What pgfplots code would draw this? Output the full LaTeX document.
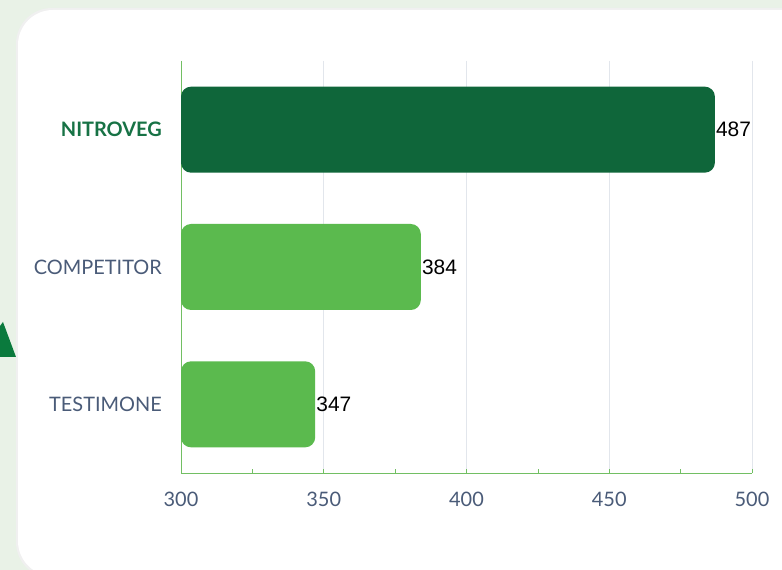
\documentclass[border=0pt]{standalone}
\usepackage{pgfplots}
\pgfplotsset{compat=1.18}
\usepackage{pgfplotstable}
\usepackage{fontspec}
\setmainfont{Lato}
\newfontfamily\valfont{Liberation Sans}
\definecolor{bgc}{HTML}{E9F2E7}
\definecolor{darkg}{HTML}{0F663A}
\definecolor{lightg}{HTML}{5BBA4E}
\definecolor{axg}{HTML}{72BF63}
\definecolor{gridc}{HTML}{E2E6EC}
\definecolor{slate}{HTML}{4A5B78}
\definecolor{lblg}{HTML}{177245}
\definecolor{trig}{HTML}{0A7A3D}
\pgfplotstableread{
x y
487 0
}\nitro
\pgfplotstableread{
x y
384 1
}\comp
\pgfplotstableread{
x y
347 2
}\test
\begin{document}
\begin{tikzpicture}[x=1bp,y=1bp]
\useasboundingbox (0,0) rectangle (782,570);
\fill[bgc] (0,0) rectangle (782,570);
\fill[trig] (0,213) -- (16,213) -- (3,248) -- (0,244) -- cycle;
\fill[black!6,rounded corners=36bp] (16,-8) rectangle (820,562);
\fill[white,rounded corners=35bp] (18,-6) rectangle (820,560);
\begin{axis}[
  at={(181bp,97bp)}, anchor=south west,
  scale only axis, width=571bp, height=412bp,
  x coord trafo/.code={\pgfmathparse{#1-300}},
  x coord inv trafo/.code={\pgfmathparse{#1+300}},
  xmin=300, xmax=500,
  ymin=-0.5, ymax=2.5, y dir=reverse,
  xtick={300,350,400,450,500},
  minor x tick num=1,
  ytick={0,1,2},
  yticklabels={{\bfseries\color{lblg}NITROVEG},{COMPETITOR},{TESTIMONE}},
  axis x line*=bottom, axis y line*=left,
  axis line style={axg, line width=0.8bp},
  every outer x axis line/.append style={-},
  every outer y axis line/.append style={-},
  xmajorgrids, major grid style={gridc, line width=0.8bp},
  tick align=inside, xtick style={axg, line width=0.6bp},
  major tick length=4bp, minor tick length=4bp,
  ytick style={draw=none},
  tick label style={font=\fontsize{20}{24}\selectfont, text=slate},
  xticklabel style={inner sep=0pt, yshift=-19bp},
  yticklabel style={inner sep=0pt, xshift=-15bp},
  /pgf/number format/assume math mode=true,
  clip=false,
  xbar, bar width=86bp, bar shift=0pt,
  nodes near coords,
  point meta=\thisrow{x},
  nodes near coords style={font=\valfont\fontsize{21}{24}\selectfont, text=black, anchor=west, inner sep=1bp},
]
\addplot[fill=darkg, draw=none, rounded corners=10bp] table[x=x,y=y] {\nitro};
\addplot[fill=lightg, draw=none, rounded corners=10bp] table[x=x,y=y] {\comp};
\addplot[fill=lightg, draw=none, rounded corners=10bp] table[x=x,y=y] {\test};
\end{axis}
\end{tikzpicture}
\end{document}
